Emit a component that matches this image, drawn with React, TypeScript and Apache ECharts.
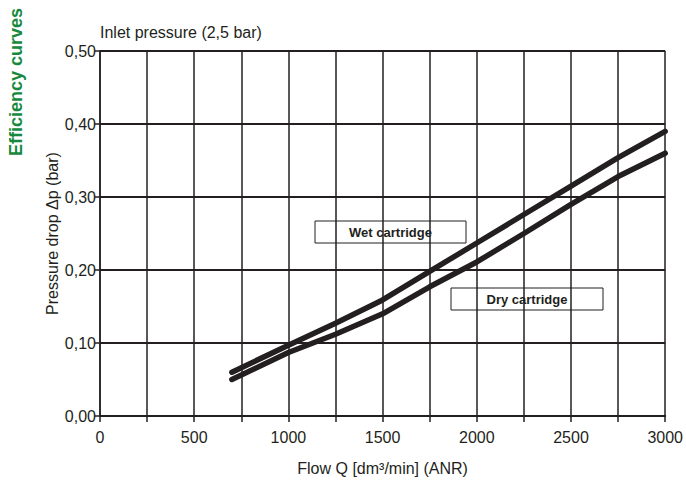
import React, { useEffect, useRef } from "react";
import * as echarts from "echarts";

const flowWet = [700, 1000, 1250, 1500, 1750, 2000, 2250, 2500, 2750, 3000];
const wetValues = [0.06, 0.097, 0.127, 0.159, 0.198, 0.237, 0.276, 0.315, 0.354, 0.39];
const flowDry = [700, 1000, 1250, 1500, 1750, 2000, 2250, 2500, 2750, 3000];
const dryValues = [0.05, 0.087, 0.112, 0.14, 0.177, 0.211, 0.25, 0.29, 0.328, 0.36];
const seriesNames = ["Wet cartridge", "Dry cartridge"];

const FONT = "'Liberation Sans', Arial, sans-serif";
const INK = "#231f20";

export default function App() {
  const ref = useRef<HTMLDivElement>(null);
  useEffect(() => {
    if (!ref.current) return;
    const chart = echarts.init(ref.current, null, { renderer: "svg" });
    const wet = flowWet.map((x, i) => [x, wetValues[i]]);
    const dry = flowDry.map((x, i) => [x, dryValues[i]]);
    chart.setOption({
      animation: false,
      backgroundColor: "#ffffff",
      grid: { left: 100, right: 16, top: 51, bottom: 65 },
      xAxis: {
        type: "value",
        min: 0,
        max: 3000,
        interval: 250,
        name: "Flow Q [dm³/min] (ANR)",
        nameLocation: "middle",
        nameGap: 44,
        nameMoveOverlap: false,
        nameTextStyle: { fontFamily: FONT, fontSize: 16, color: INK },
        axisLine: { show: true, lineStyle: { color: INK, width: 2 } },
        axisTick: { show: true, length: 6, lineStyle: { color: INK, width: 1.5 } },
        axisLabel: {
          fontFamily: FONT,
          fontSize: 16,
          color: INK,
          margin: 13,
          formatter: (v: number) => (v % 500 === 0 ? String(v) : ""),
        },
        splitLine: { show: true, lineStyle: { color: INK, width: 1.5 } },
      },
      yAxis: {
        type: "value",
        min: 0,
        max: 0.5,
        interval: 0.1,
        name: "Pressure drop Δp (bar)",
        nameLocation: "middle",
        nameGap: 40,
        nameMoveOverlap: false,
        nameTextStyle: { fontFamily: FONT, fontSize: 16, color: INK },
        axisLine: { show: true, lineStyle: { color: INK, width: 1.5 } },
        axisTick: { show: true, length: 5, lineStyle: { color: INK, width: 1.5 } },
        axisLabel: {
          fontFamily: FONT,
          fontSize: 16,
          color: INK,
          margin: 4,
          formatter: (v: number) => v.toFixed(2).replace(".", ","),
        },
        splitLine: { show: true, lineStyle: { color: INK, width: 1.8 } },
      },
      series: [
        {
          name: seriesNames[0],
          type: "line",
          data: wet,
          symbol: "none",
          lineStyle: { color: INK, width: 5.5, cap: "round" },
        },
        {
          name: seriesNames[1],
          type: "line",
          data: dry,
          symbol: "none",
          lineStyle: { color: INK, width: 5.5, cap: "round" },
        },
      ],
      graphic: [
        {
          type: "text",
          rotation: Math.PI / 2,
          x: 7,
          y: 156,
          style: {
            text: "Efficiency curves",
            fontFamily: FONT,
            fontSize: 18,
            fontWeight: "bold",
            fill: "#16893e",
            textVerticalAlign: "top",
          },
        },
        {
          type: "text",
          x: 100,
          y: 24,
          style: {
            text: "Inlet pressure (2,5 bar)",
            fontFamily: FONT,
            fontSize: 16,
            fill: INK,
          },
        },
        {
          type: "group",
          x: 315,
          y: 221,
          children: [
            {
              type: "rect",
              shape: { x: 0, y: 0, width: 151, height: 22 },
              style: { fill: "#ffffff", stroke: INK, lineWidth: 1 },
            },
            {
              type: "text",
              x: 75.5,
              y: 11,
              style: {
                text: seriesNames[0],
                fontFamily: FONT,
                fontSize: 13,
                fontWeight: "bold",
                fill: INK,
                align: "center",
                verticalAlign: "middle",
              },
            },
          ],
        },
        {
          type: "group",
          x: 451,
          y: 288,
          children: [
            {
              type: "rect",
              shape: { x: 0, y: 0, width: 152, height: 22 },
              style: { fill: "#ffffff", stroke: INK, lineWidth: 1 },
            },
            {
              type: "text",
              x: 76,
              y: 11,
              style: {
                text: seriesNames[1],
                fontFamily: FONT,
                fontSize: 13,
                fontWeight: "bold",
                fill: INK,
                align: "center",
                verticalAlign: "middle",
              },
            },
          ],
        },
      ],
    });
    return () => chart.dispose();
  }, []);
  return <div ref={ref} style={{ width: 686, height: 481, position: "absolute", left: 0, top: 0 }} />;
}
